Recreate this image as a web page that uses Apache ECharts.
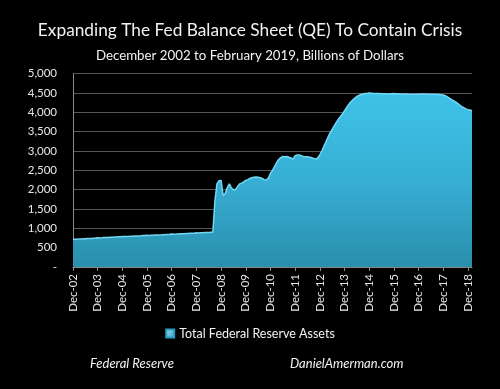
<!DOCTYPE html>
<html>
<head>
<meta charset="utf-8">
<style>
html,body{margin:0;padding:0;background:#000;}
#c{width:500px;height:389px;}
</style>
<script src="https://cdn.jsdelivr.net/npm/echarts@6/dist/echarts.min.js"></script>
</head>
<body>
<div id="c"></div>
<script>
// Monthly values, Dec 2002 .. Feb 2019 (billions of dollars)
const startYear = 2002;
const monthNames = ['Jan','Feb','Mar','Apr','May','Jun','Jul','Aug','Sep','Oct','Nov','Dec'];
const values2002 = [720];
const values2003 = [715, 718, 722, 725, 728, 730, 735, 738, 740, 745, 748, 755];
const values2004 = [752, 755, 760, 762, 765, 768, 770, 775, 778, 782, 785, 790];
const values2005 = [788, 790, 792, 795, 798, 800, 802, 805, 808, 812, 815, 820];
const values2006 = [818, 820, 822, 825, 828, 830, 832, 835, 838, 842, 845, 852];
const values2007 = [850, 852, 855, 858, 860, 862, 865, 868, 870, 872, 875, 885];
const values2008 = [880, 885, 888, 890, 890, 895, 900, 905, 1700, 2150, 2230, 2240];
const values2009 = [1850, 1900, 2050, 2150, 2050, 2000, 2000, 2080, 2150, 2170, 2200, 2240];
const values2010 = [2260, 2290, 2310, 2320, 2330, 2320, 2310, 2290, 2260, 2250, 2300, 2420];
const values2011 = [2500, 2600, 2700, 2780, 2830, 2860, 2850, 2860, 2840, 2820, 2790, 2880];
const values2012 = [2900, 2900, 2880, 2860, 2850, 2850, 2840, 2830, 2810, 2790, 2820, 2900];
const values2013 = [3000, 3120, 3240, 3360, 3470, 3560, 3650, 3740, 3820, 3890, 3960, 4040];
const values2014 = [4120, 4200, 4270, 4320, 4370, 4410, 4440, 4460, 4475, 4485, 4490, 4500];
const values2015 = [4495, 4490, 4490, 4485, 4485, 4480, 4480, 4480, 4475, 4480, 4480, 4485];
const values2016 = [4480, 4480, 4475, 4475, 4475, 4475, 4470, 4470, 4470, 4470, 4470, 4470];
const values2017 = [4475, 4475, 4475, 4470, 4470, 4470, 4470, 4470, 4465, 4460, 4455, 4450];
const values2018 = [4430, 4400, 4370, 4330, 4300, 4270, 4230, 4190, 4150, 4120, 4090, 4070];
const values2019 = [4060, 4045];

const yTicks = [0, 500, 1000, 1500, 2000, 2500, 3000, 3500, 4000, 4500, 5000];

const yearly = [values2002, values2003, values2004, values2005, values2006, values2007, values2008,
  values2009, values2010, values2011, values2012, values2013, values2014, values2015, values2016,
  values2017, values2018, values2019];

const categories = [];
const values = [];
yearly.forEach((arr, yi) => {
  const yr = startYear + yi;
  const startM = yi === 0 ? 11 : 0;
  arr.forEach((v, k) => {
    const m = startM + k;
    categories.push(monthNames[m] + '-' + String(yr % 100).padStart(2, '0'));
    values.push(v);
  });
});

const font = 'Lato, "Open Sans", sans-serif';
const chart = echarts.init(document.getElementById('c'), null, {renderer: 'canvas'});
chart.setOption({
  backgroundColor: '#000',
  animation: false,
  title: [
    {text: 'Expanding The Fed Balance Sheet (QE) To Contain Crisis', left: 'center', top: 17,
     textStyle: {color: '#f2f2f2', fontSize: 17.3, fontWeight: 'normal', fontFamily: font}},
    {text: 'December 2002 to February 2019, Billions of Dollars', left: 'center', top: 44,
     textStyle: {color: '#f2f2f2', fontSize: 13.3, fontWeight: 'normal', fontFamily: font}},
    {text: 'Federal Reserve', left: 85, top: 352,
     textStyle: {color: '#f2f2f2', fontSize: 13, fontStyle: 'italic', fontWeight: 'normal', fontFamily: font}},
    {text: 'DanielAmerman.com', left: 285, top: 352,
     textStyle: {color: '#f2f2f2', fontSize: 13, fontStyle: 'italic', fontWeight: 'normal', fontFamily: font}}
  ],
  legend: {
    data: ['Total Federal Reserve Assets'],
    left: 'center', top: 322,
    itemWidth: 8, itemHeight: 8, itemGap: 4,
    icon: 'rect',
    textStyle: {color: '#f2f2f2', fontSize: 12.5, fontFamily: font}
  },
  grid: {left: 73, right: 28, top: 73.7, bottom: 122, containLabel: false},
  xAxis: {
    type: 'category',
    data: categories,
    boundaryGap: false,
    axisLine: {lineStyle: {color: '#888', width: 1}},
    axisTick: {show: true, interval: 11, length: 4, lineStyle: {color: '#888'}},
    axisLabel: {interval: 11, rotate: 90, color: '#e6e6e6', fontSize: 11.5, fontFamily: font, margin: 7},
    splitLine: {show: false}
  },
  yAxis: {
    type: 'value',
    min: 0, max: 5000, interval: 500,
    axisLine: {show: true, lineStyle: {color: '#888'}},
    axisTick: {show: false},
    axisLabel: {color: '#e6e6e6', fontSize: 11.5, fontFamily: font, margin: 16,
      formatter: v => v === 0 ? '-' : v.toLocaleString('en-US')},
    splitLine: {lineStyle: {color: '#555', width: 1}}
  },
  series: [{
    name: 'Total Federal Reserve Assets',
    type: 'line',
    data: values,
    showSymbol: false,
    symbol: 'none',
    smooth: false,
    lineStyle: {color: '#72d8f4', width: 1.5},
    itemStyle: {color: {type: 'linear', x: 0, y: 0, x2: 1, y2: 1,
      colorStops: [{offset: 0, color: '#9ee6f8'}, {offset: 1, color: '#2a9cc2'}]},
      borderColor: '#2a9cc2', borderWidth: 0.5},
    areaStyle: {
      opacity: 1,
      color: {type: 'linear', x: 0, y: 0, x2: 0, y2: 1,
        colorStops: [{offset: 0, color: '#3ec2e8'}, {offset: 0.5, color: '#37afd4'}, {offset: 1, color: '#2a8eac'}]}
    }
  }]
});
</script>
</body>
</html>
